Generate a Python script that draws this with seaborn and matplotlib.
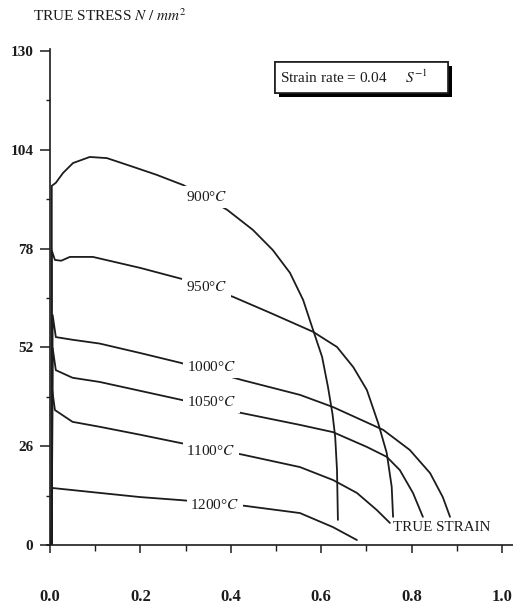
import numpy as np
import pandas as pd
import matplotlib
matplotlib.use("Agg")
import matplotlib.pyplot as plt
import matplotlib.patheffects as pe
import matplotlib.transforms as mtransforms
from matplotlib.patches import Rectangle
from matplotlib.ticker import MultipleLocator
import seaborn as sns

# ---- data ----
temps = ["900", "950", "1000", "1050", "1100", "1200"]

strain_900 = [0.004, 0.004, 0.013, 0.029, 0.051, 0.088, 0.126, 0.184, 0.236, 0.295,
              0.392, 0.449, 0.493, 0.531, 0.560, 0.582, 0.602, 0.615, 0.625, 0.631, 0.635, 0.637]
stress_900 = [0, 94.5, 95.3, 97.9, 100.5, 102.1, 101.8, 99.5, 97.4, 94.7,
              88.2, 82.9, 77.6, 71.6, 64.5, 56.6, 49.5, 41.6, 34.5, 28.4, 19.7, 6.6]

strain_950 = [0.004, 0.004, 0.011, 0.025, 0.044, 0.095, 0.2, 0.292,
              0.405, 0.487, 0.582, 0.635, 0.671, 0.701, 0.726, 0.745, 0.756, 0.759]
stress_950 = [0, 77.5, 75.0, 74.8, 75.8, 75.8, 72.9, 70.0,
              65.3, 61.1, 56.1, 52.1, 46.8, 40.8, 32.1, 24.2, 15.3, 7.4]

strain_1000 = [0.004, 0.006, 0.013, 0.05, 0.11, 0.2, 0.29, 0.425, 0.553, 0.626,
               0.737, 0.796, 0.841, 0.869, 0.885]
stress_1000 = [0, 60.5, 54.7, 54.0, 53.0, 50.5, 47.9, 43.4, 39.5, 36.3,
               30.3, 25.0, 18.9, 12.6, 7.4]

strain_1050 = [0.004, 0.006, 0.013, 0.05, 0.11, 0.29, 0.425, 0.553, 0.626, 0.701,
               0.745, 0.774, 0.803, 0.825]
stress_1050 = [0, 51.8, 46.0, 44.0, 42.9, 38.2, 34.7, 31.6, 29.7, 25.8,
               23.2, 19.7, 13.7, 7.4]

strain_1100 = [0.003, 0.005, 0.011, 0.05, 0.11, 0.2, 0.29, 0.425, 0.553, 0.626,
               0.679, 0.723, 0.752]
stress_1100 = [0, 40.8, 35.5, 32.4, 31.1, 29.0, 26.8, 23.8, 20.5, 17.1,
               13.7, 9.2, 5.8]

strain_1200 = [0.003, 0.005, 0.11, 0.2, 0.29, 0.431, 0.553, 0.626, 0.679]
stress_1200 = [0, 15.0, 13.7, 12.6, 11.8, 10.3, 8.4, 4.7, 1.3]

label_x = [0.347, 0.347, 0.358, 0.358, 0.356, 0.365]
label_y = [91.6, 67.9, 46.8, 37.6, 24.7, 10.5]

x_ticks = [0.0, 0.2, 0.4, 0.6, 0.8, 1.0]
y_ticks = [0, 26, 52, 78, 104, 130]

strains = [strain_900, strain_950, strain_1000, strain_1050, strain_1100, strain_1200]
stresses = [stress_900, stress_950, stress_1000, stress_1050, stress_1100, stress_1200]

frames = []
for t, sx, sy in zip(temps, strains, stresses):
    frames.append(pd.DataFrame({"strain": sx, "stress": sy, "temp": t}))
df = pd.concat(frames, ignore_index=True)

# ---- style ----
sns.set_style("ticks")
plt.rcParams["font.family"] = ["Liberation Serif", "DejaVu Serif"]
plt.rcParams["mathtext.fontset"] = "stix"

ink = "#1c1c1c"
fig = plt.figure(figsize=(5.13, 6.10), dpi=100)
ax = fig.add_axes([0.0912, 0.1066, 0.9094, 0.813])

sns.lineplot(data=df, x="strain", y="stress", units="temp", estimator=None,
             sort=False, color=ink, linewidth=1.3, ax=ax, legend=False)

ax.set_xlim(-0.007, 1.025)
ax.set_ylim(0, 130.5)
ax.spines["left"].set_position(("data", 0))
ax.spines["top"].set_visible(False)
ax.spines["right"].set_visible(False)
for s in ("left", "bottom"):
    ax.spines[s].set_color(ink)
    ax.spines[s].set_linewidth(1.2)

ax.set_xticks(x_ticks)
ax.set_xticklabels([f"{v:.1f}" for v in x_ticks])
ax.set_yticks(y_ticks)
ax.set_yticklabels([str(v) for v in y_ticks])
ax.xaxis.set_minor_locator(MultipleLocator(0.1))
ax.yaxis.set_minor_locator(MultipleLocator(13))
ax.tick_params(axis="x", which="major", direction="out", length=6, width=1.1,
               pad=26, labelsize=12, colors=ink)
ax.tick_params(axis="x", which="minor", direction="out", length=4, width=1.0, colors=ink)
ax.tick_params(axis="y", which="major", direction="out", length=7, width=1.1,
               pad=5, labelsize=11, colors=ink)
ax.tick_params(axis="y", which="minor", direction="out", length=3, width=1.0, colors=ink)
for lab in ax.get_xticklabels() + ax.get_yticklabels():
    lab.set_fontweight("bold")
ax.set_xlabel("")
ax.set_ylabel("")

# curve labels (white background interrupts the line)
for t, lx, ly in zip(temps, label_x, label_y):
    ax.text(lx, ly, t + "°$C$", ha="center", va="center", fontsize=11, color=ink,
            bbox=dict(boxstyle="square,pad=0.25", facecolor="white", edgecolor="none"),
            zorder=5)

ax.text(0.759, 4.5, "TRUE STRAIN", ha="left", va="center", fontsize=10.8, color=ink)

# strain-rate box with shadow (frame sized from the rendered text)
box = ax.text(0.509, 123.0, r"Strain rate = 0.04     $S^{-1}$", ha="left",
              va="center", fontsize=11, color=ink, zorder=8)
fig.canvas.draw()
bb = box.get_window_extent()
cy = (bb.y0 + bb.y1) / 2
frame = Rectangle((bb.x0 - 5, cy - 15.5), bb.width + 25, 31,
                  transform=mtransforms.IdentityTransform(),
                  facecolor="white", edgecolor=ink, linewidth=1.2, zorder=7)
frame.set_path_effects([pe.withSimplePatchShadow(offset=(3, -3), shadow_rgbFace="black",
                                                 alpha=1.0), pe.Normal()])
ax.add_artist(frame)

fig.text(33 / 513, 1 - 16 / 610, r"TRUE STRESS $N\ /\ mm^2$", ha="left", va="center",
         fontsize=11, color=ink)

fig.savefig("out.png", dpi=100, facecolor="white")
